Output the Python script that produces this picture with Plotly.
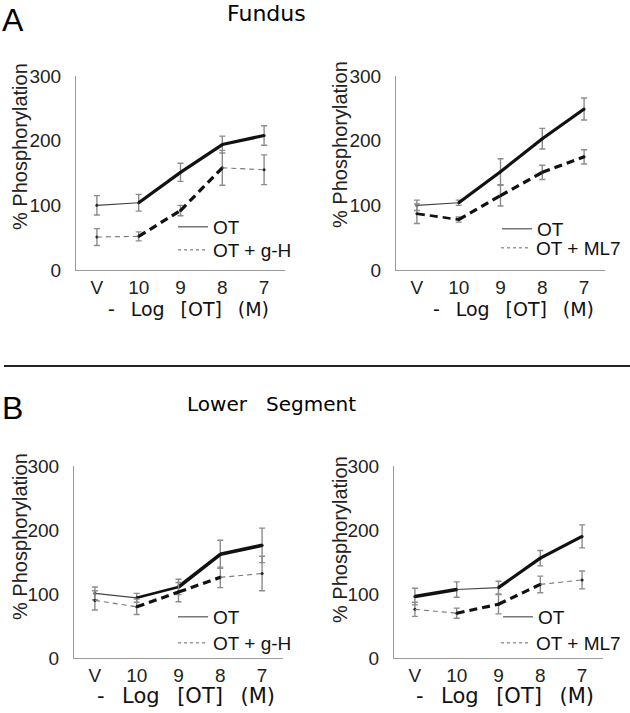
import plotly.graph_objects as go

# ---------------- data ----------------
CATEGORIES = ["V", "10", "9", "8", "7"]
Y_TICKS = [0, 100, 200, 300]

# Fundus, OT vs OT + g-H
FUNDUS_GH_OT = [100, 104, 151, 194, 208]
FUNDUS_GH_OT_SEM = [15, 13, 14, 13, 15]
FUNDUS_GH = [51, 52, 92, 158, 155]
FUNDUS_GH_SEM = [13, 7, 8, 27, 23]

# Fundus, OT vs OT + ML7
FUNDUS_ML7_OT = [100, 104, 152, 203, 249]
FUNDUS_ML7_OT_SEM = [8, 4, 20, 16, 17]
FUNDUS_ML7 = [87, 78, 115, 151, 175]
FUNDUS_ML7_SEM = [15, 4, 16, 11, 11]

# Lower segment, OT vs OT + g-H
LOWER_GH_OT = [101, 94, 111, 162, 176]
LOWER_GH_OT_SEM = [10, 7, 12, 22, 27]
LOWER_GH = [90, 80, 103, 126, 132]
LOWER_GH_SEM = [15, 12, 15, 16, 27]

# Lower segment, OT vs OT + ML7
LOWER_ML7_OT = [96, 107, 110, 156, 190]
LOWER_ML7_OT_SEM = [13, 12, 10, 12, 18]
LOWER_ML7 = [76, 70, 84, 115, 122]
LOWER_ML7_SEM = [11, 8, 15, 13, 14]

# ---------------- styles ----------------
W, H = 630, 713
THIN, THICK = 1.1, 3.2
FONT = "Liberation Sans, Arial, sans-serif"
TFONT = "DejaVu Sans, sans-serif"


def px_x(x):
    return x / W


def px_y(y):
    return 1 - y / H


# legend text start x, text centre y (pixels) for each entry
panels = [
    dict(ax="", dom_x=(76, 285), dom_y=(76, 270),
         series=[("OT", FUNDUS_GH_OT, FUNDUS_GH_OT_SEM, [THIN, THICK, THICK, THICK], "solid", (213, 227)),
                 ("OT + g-H", FUNDUS_GH, FUNDUS_GH_SEM, [THIN, THICK, THICK, THIN], "dash", (213, 250))]),
    dict(ax="2", dom_x=(396, 605), dom_y=(76, 270),
         series=[("OT", FUNDUS_ML7_OT, FUNDUS_ML7_OT_SEM, [THIN, THICK, THICK, THICK], "solid", (537, 229)),
                 ("OT + ML7", FUNDUS_ML7, FUNDUS_ML7_SEM, [2.6, THICK, THICK, THICK], "dash", (536, 248))]),
    dict(ax="3", dom_x=(74, 283), dom_y=(466, 658),
         series=[("OT", LOWER_GH_OT, LOWER_GH_OT_SEM, [THIN, 2.6, 3.6, 3.6], "solid", (213, 617)),
                 ("OT + g-H", LOWER_GH, LOWER_GH_SEM, [THIN, THICK, THICK, THIN], "dash", (213, 643))]),
    dict(ax="4", dom_x=(394, 603), dom_y=(466, 658),
         series=[("OT", LOWER_ML7_OT, LOWER_ML7_OT_SEM, [3.6, THIN, THICK, THICK], "solid", (538, 617)),
                 ("OT + ML7", LOWER_ML7, LOWER_ML7_SEM, [THIN, THICK, THICK, THIN], "dash", (536, 643))]),
]

fig = go.Figure()
layout = dict(
    width=W, height=H, margin=dict(l=0, r=0, t=0, b=0, autoexpand=False),
    paper_bgcolor="white", plot_bgcolor="white", showlegend=True,
)

leg_idx = 0
for p in panels:
    xa, ya = "x" + p["ax"], "y" + p["ax"]
    for name, vals, sem, widths, dash, (lx, ly) in p["series"]:
        # error bars + point markers
        fig.add_trace(go.Scatter(
            x=CATEGORIES, y=vals, xaxis=xa, yaxis=ya, mode="markers",
            marker=dict(size=3, color="#222"),
            error_y=dict(type="data", array=sem, color="#8c8c8c", thickness=1.4, width=3),
            showlegend=False, hoverinfo="skip"))
        # line segments of varying weight
        for i in range(len(CATEGORIES) - 1):
            w = widths[i]
            thick = w > 2
            if dash == "solid":
                d = "solid"
                col = "#111" if thick else "#444"
            else:
                d = "8px,5px" if thick else "5px,4px"
                col = "#111" if thick else "#777"
            fig.add_trace(go.Scatter(
                x=CATEGORIES[i:i + 2], y=vals[i:i + 2], xaxis=xa, yaxis=ya,
                mode="lines", line=dict(color=col, width=w, dash=d),
                showlegend=False, hoverinfo="skip"))
        # legend entry (one small legend per entry for exact placement)
        leg_idx += 1
        lname = "legend" if leg_idx == 1 else "legend%d" % leg_idx
        fig.add_trace(go.Scatter(
            x=[None], y=[None], xaxis=xa, yaxis=ya, mode="lines", name=name,
            line=dict(color="#333" if dash == "solid" else "#666", width=1,
                      dash="solid" if dash == "solid" else "3px,3px"),
            legend=lname))
        layout[lname] = dict(
            x=px_x(lx - 40), y=px_y(ly), xanchor="left", yanchor="middle",
            bgcolor="rgba(0,0,0,0)", borderwidth=0,
            font=dict(family=FONT, size=19, color="#111"))

    layout["xaxis" + p["ax"]] = dict(
        domain=[px_x(p["dom_x"][0]), px_x(p["dom_x"][1])], anchor=ya,
        type="category", categoryorder="array", categoryarray=CATEGORIES,
        range=[-0.5, 4.5], showline=True, linecolor="#9a9a9a", linewidth=1,
        showgrid=False, zeroline=False, ticks="", fixedrange=True,
        tickfont=dict(family=FONT, size=19, color="#222"))
    layout["yaxis" + p["ax"]] = dict(
        domain=[px_y(p["dom_y"][1]), px_y(p["dom_y"][0])], anchor=xa,
        range=[0, 300], tickvals=Y_TICKS, showline=True, linecolor="#9a9a9a",
        linewidth=1, showgrid=False, zeroline=False, ticks="",
        ticklabelstandoff=10, fixedrange=True,
        tickfont=dict(family=FONT, size=19, color="#222"))

fig.update_layout(**layout)

ann = []


def add_text(text, x, y, size, family=TFONT, angle=0, xanchor="center",
             yanchor="middle", color="#000"):
    ann.append(dict(text=text, x=px_x(x), y=px_y(y), xref="paper", yref="paper",
                    showarrow=False, xanchor=xanchor, yanchor=yanchor, textangle=angle,
                    font=dict(family=family, size=size, color=color)))


NB = "\u00a0"
GAP = NB * 2 + "\u2009"
xtitle = "-" + GAP + "Log" + GAP + "[OT]" + GAP + "(M)"
add_text("A", 0, 0, 32, family=FONT, xanchor="left", yanchor="top")
add_text("B", 0, 388, 32, family=FONT, xanchor="left", yanchor="top")
add_text("Fundus", 266, 14, 22)
add_text("Lower" + NB * 3 + "Segment", 271, 404, 20)
for cx, cy, fs in [(188, 309, 19), (513, 309, 19), (186, 696, 21), (505, 696, 21)]:
    add_text(xtitle, cx, cy, fs, color="#111")
for cx, cy in [(20, 147), (340, 145), (20, 537), (340, 540)]:
    add_text("% Phosphorylation", cx, cy, 20, family=FONT, angle=-90, color="#222")

fig.update_layout(annotations=ann)
fig.add_shape(type="line", xref="paper", yref="paper", x0=px_x(4), x1=1,
              y0=px_y(366), y1=px_y(366), line=dict(color="#222", width=2))

fig.write_html("out.html", config={"displayModeBar": False, "staticPlot": True},
               post_script="document.body.style.margin='0';document.body.style.overflow='hidden';")
